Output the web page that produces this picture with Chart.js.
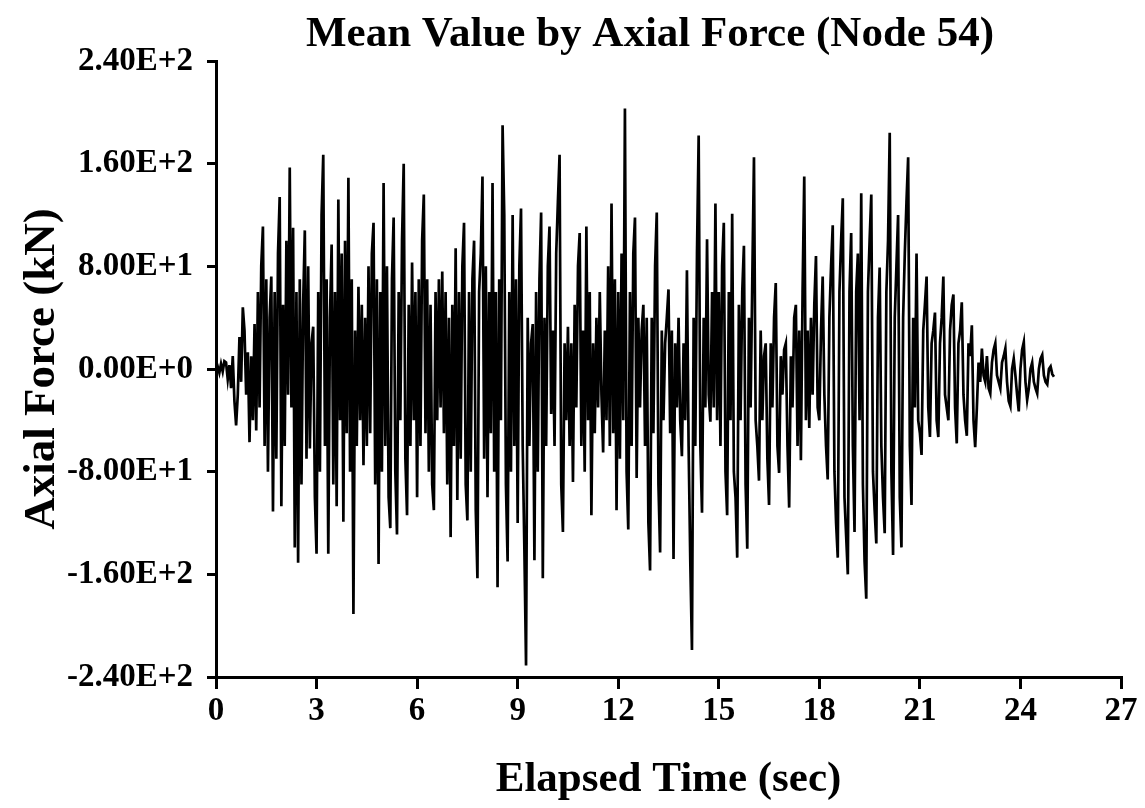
<!DOCTYPE html>
<html>
<head>
<meta charset="utf-8">
<title>Mean Value by Axial Force (Node 54)</title>
<script src="https://cdn.jsdelivr.net/npm/chart.js@4"></script>
<style>
  html, body { margin: 0; padding: 0; background: #fff; }
  canvas { display: block; }
</style>
</head>
<body>
<canvas id="axial-force" width="1145" height="808"></canvas>
<script>
const chartTitle = 'Mean Value by Axial Force (Node 54)';
const xAxisTitle = 'Elapsed Time (sec)';
const yAxisTitle = 'Axial Force (kN)';

const xTickValues = [0, 3, 6, 9, 12, 15, 18, 21, 24, 27];
const yTickValues = [-240, -160, -80, 0, 80, 160, 240];
const yTickLabels = ['-2.40E+2', '-1.60E+2', '-8.00E+1', '0.00E+0', '8.00E+1', '1.60E+2', '2.40E+2'];

// axial force (kN), sampled every 0.05 s, one array per second of record
const sampleStep = 0.05;
const sec00 = [0, 2, -3, 4, -2, 6, 5, -8, 3, -15, 10, -25, -44, -20, 25, -10, 48, 30, -20, 13];
const sec01 = [-57, 10, -40, 35, -48, 60, -30, 80, 111, -60, 70, -80, 40, 72, -111, 60, -70, 90, 134, -107];
const sec02 = [50, -60, 100, -20, 157, -30, 110, -139, 60, -151, 70, -90, 50, 108, -70, 80, -62, 20, 33, -100];
const sec03 = [-144, 60, -80, 120, 167, -60, 70, -144, 40, 97, -90, 60, -107, 132, -40, 90, -119, 100, -50, 149];
const sec04 = [-80, 70, -191, 30, -60, 64, -40, 50, -75, 40, -60, 80, -50, 90, 114, -90, 70, -152, 60, -80];
const sec05 = [145, -60, 80, -100, -124, 70, 118, -80, -129, 60, -40, 100, 160, -70, -114, 50, -60, 83, -40, 60];
const sec06 = [-100, 70, -60, 100, 136, -50, 70, -80, 50, -90, -110, 60, -40, 70, -30, 76, -50, 60, -90, 40];
const sec07 = [-131, 50, -60, 94, -102, 60, -70, 80, 114, -90, -118, 60, -80, 70, 100, -110, -163, 60, 90, 150];
const sec08 = [-70, 80, -100, 60, -50, 145, -80, 60, -170, 70, -40, 190, 120, -90, -150, 60, -80, 120, -60, 70];
const sec09 = [-120, 80, 125, -60, -140, -231, 40, -60, 20, 35, -149, 60, -80, 70, 122, -163, 40, -60, 80, 111];
const sec10 = [-35, 30, -60, 90, 130, 167, -90, -127, 20, -40, 33, -60, 20, -88, 50, -30, 80, 106, -60, 30];
const sec11 = [-80, 111, -40, 60, -114, 20, -50, 40, -30, 60, -20, -65, 30, -40, 80, -60, 129, -50, 70, -110];
const sec12 = [60, -70, 90, -40, 203, -80, -125, 60, -60, 90, 118, -85, 40, -30, 30, 50, -60, 40, -120, -157];
const sec13 = [40, -50, 80, 122, -90, -143, 30, -40, 20, 40, 62, -50, 30, -148, 20, -30, 40, -40, -68, 20];
const sec14 = [-40, 77, -60, -150, -219, 40, -60, 90, 182, -60, -112, 40, -30, 101, -20, -41, 60, -30, 129, -40];
const sec15 = [60, -60, 80, 114, -80, -114, 60, -40, 121, -80, -100, -147, 50, -40, 60, 96, -90, -140, 40, -30];
const sec16 = [70, 165, -40, -60, -87, 30, -40, 10, 20, -70, -106, 20, -30, 40, 67, -60, -81, 10, -20, 15];
const sec17 = [20, -60, -108, 10, -30, 40, 50, -60, 30, -71, 60, 150, -40, 30, -46, 40, -20, 50, 88, -30];
const sec18 = [-40, 30, 72, -20, -60, -86, 40, 80, 112, -80, -120, -147, 60, 100, 133, -100, -130, -160, 60, 106];
const sec19 = [-60, -127, 60, 90, -40, 137, -90, -150, -179, 60, 100, 136, -80, -110, -136, 40, 79, -60, -100, -128];
const sec20 = [60, 100, 184, -80, -145, 40, 80, 120, -100, -139, 40, 90, 130, 165, -60, -106, 40, -30, 90, -40];
const sec21 = [-50, -67, 30, 50, 72, -30, -53, 20, 30, 44, -40, -53, 20, 40, 72, -20, -30, -40, 30, 50];
const sec22 = [58, -30, -58, 20, 30, 52, -20, -40, -52, 20, 10, 34, -40, -61, -30, 5, -10, 16, -5, -10];
const sec23 = [10, -15, -19, 5, 15, 20, -5, -10, -15, 5, 10, 16, -10, -25, -29, 0, 8, -5, -20, -33];
const sec24 = [0, 15, 21, -10, -24, -15, 0, 5, -10, -15, -19, 0, 8, 11, -5, -10, -12, 0, 2, -4];
const sec25 = [-6];

const seconds = [sec00, sec01, sec02, sec03, sec04, sec05, sec06, sec07, sec08, sec09,
  sec10, sec11, sec12, sec13, sec14, sec15, sec16, sec17, sec18, sec19,
  sec20, sec21, sec22, sec23, sec24, sec25];

const points = [];
seconds.forEach((values, s) => {
  values.forEach((v, i) => {
    points.push({ x: +(s + i * sampleStep).toFixed(2), y: v });
  });
});

const serif = "'Liberation Serif', 'Times New Roman', serif";

const plotTitle = {
  id: 'plotTitle',
  afterDraw(chart) {
    const c = chart.ctx;
    c.save();
    c.font = 'bold 43px ' + serif;
    c.fillStyle = '#000';
    c.textAlign = 'center';
    c.textBaseline = 'middle';
    c.fillText(chartTitle, 650, 35);
    c.restore();
  }
};

const ctx = document.getElementById('axial-force').getContext('2d');

new Chart(ctx, {
  type: 'line',
  data: {
    datasets: [{
      data: points,
      borderColor: '#000',
      borderWidth: 2.7,
      pointRadius: 0,
      tension: 0,
      fill: false
    }]
  },
  options: {
    responsive: false,
    animation: false,
    events: [],
    layout: { padding: { top: 61, right: 24, left: 0, bottom: 0 } },
    plugins: {
      legend: { display: false },
      tooltip: { enabled: false }
    },
    scales: {
      x: {
        type: 'linear',
        min: 0,
        max: 27,
        afterBuildTicks: scale => { scale.ticks = xTickValues.map(v => ({ value: v })); },
        afterFit: scale => { scale.height = 131; },
        grid: { drawOnChartArea: false, drawTicks: true, tickLength: 12, color: '#000', lineWidth: 3 },
        border: { display: true, color: '#000', width: 3 },
        ticks: {
          color: '#000',
          padding: 3,
          maxRotation: 0,
          font: { family: serif, size: 33, weight: 'bold' }
        },
        title: {
          display: true,
          text: xAxisTitle,
          color: '#000',
          font: { family: serif, size: 43, weight: 'bold' },
          padding: { top: 0, bottom: 2 }
        }
      },
      y: {
        min: -240,
        max: 240,
        afterBuildTicks: scale => { scale.ticks = yTickValues.map(v => ({ value: v })); },
        afterFit: scale => { scale.width = 216; },
        grid: { drawOnChartArea: false, drawTicks: true, tickLength: 9, color: '#000', lineWidth: 3 },
        border: { display: true, color: '#000', width: 3 },
        ticks: {
          color: '#000',
          padding: 14,
          font: { family: serif, size: 33, weight: 'bold' },
          callback: value => yTickLabels[yTickValues.indexOf(value)]
        },
        title: {
          display: true,
          text: yAxisTitle,
          color: '#000',
          font: { family: serif, size: 45, weight: 'bold' },
          padding: { top: 15, bottom: 0 }
        }
      }
    }
  },
  plugins: [plotTitle]
});
</script>
</body>
</html>
